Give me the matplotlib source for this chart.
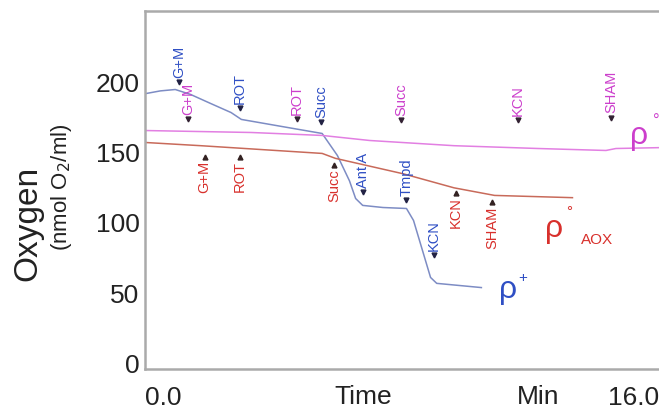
import matplotlib
matplotlib.use('Agg')
import matplotlib.pyplot as plt

plt.rcParams['font.family'] = ['Liberation Sans', 'DejaVu Sans']

# traces (time in min, oxygen in nmol O2/ml)
rho_plus_t = [-0.62, -0.1, 0.41, 0.93, 1.62, 2.31, 2.66, 4.03, 5.41, 5.93, 6.34, 6.55,
              6.79, 7.48, 8.28, 8.52, 9.10, 9.31, 10.83]
rho_plus_o2 = [192, 194, 195, 191.5, 185, 178.6, 173.7, 168.7, 163.7, 148, 130, 117.4,
               112.5, 111, 110.3, 101.8, 61.2, 57, 54]

rho0_t = [-0.62, 3.0, 5.41, 7.03, 9.9, 12.76, 15.07, 15.41, 17.1]
rho0_o2 = [165.8, 164.4, 162.3, 158.7, 155, 153, 151.6, 153, 153.7]

rho0_aox_t = [-0.62, 1.28, 5.41, 5.86, 8.17, 9.9, 11.28, 13.93]
rho0_aox_o2 = [157.3, 155, 149.5, 146, 135, 125, 119.6, 118]

# additions: label, time, arrow level
plus_labels = ['G+M', 'ROT', 'Succ', 'Ant A', 'Tmpd', 'KCN']
plus_times = [0.55, 2.62, 5.38, 6.79, 8.28, 9.21]
plus_levels = [200, 181.5, 172, 122, 116, 77]

rho0_labels = ['G+M', 'ROT', 'Succ', 'KCN', 'SHAM']
rho0_times = [0.86, 4.55, 8.10, 12.07, 15.24]
rho0_levels = [174, 174, 173, 173, 175]

aox_labels = ['G+M', 'ROT', 'Succ', 'KCN', 'SHAM']
aox_times = [1.41, 2.62, 5.83, 9.97, 11.2]
aox_levels = [147, 147, 141, 121, 114.6]

blue = '#2f4fc4'
magenta = '#cc3fcc'
red = '#d8302c'

fig = plt.figure(figsize=(6.59, 4.17), dpi=100)
ax = fig.add_axes([0.22, 0.115, 0.79, 0.859])

ax.plot(rho_plus_t, rho_plus_o2, color='#7d8cc4', lw=1.1)
ax.plot(rho0_t, rho0_o2, color='#e27fe2', lw=1.1)
ax.plot(rho0_aox_t, rho0_aox_o2, color='#c86a5a', lw=1.1)

for lab, t, y in zip(plus_labels, plus_times, plus_levels):
    ax.plot(t, y, marker='v', ms=3.5, color='#222244', ls='none')
    ax.annotate(lab, (t, y), xytext=(0, 3), textcoords='offset points', rotation=90,
                ha='center', va='bottom', color=blue, fontsize=10.5)
for lab, t, y in zip(rho0_labels, rho0_times, rho0_levels):
    ax.plot(t, y, marker='v', ms=3.5, color='#332233', ls='none')
    ax.annotate(lab, (t, y), xytext=(0, 3), textcoords='offset points', rotation=90,
                ha='center', va='bottom', color=magenta, fontsize=10.5)
for lab, t, y in zip(aox_labels, aox_times, aox_levels):
    ax.plot(t, y, marker='^', ms=3.5, color='#332222', ls='none')
    ax.annotate(lab, (t, y), xytext=(0, -3), textcoords='offset points', rotation=90,
                ha='center', va='top', color=red, fontsize=10.5)

# trace names
ax.text(16.2, 162, 'ρ', color=magenta, fontsize=23, ha='center', va='center')
ax.text(16.8, 172, '°', color=magenta, fontsize=12, ha='center', va='center')
ax.text(13.3, 96, 'ρ', color=red, fontsize=23, ha='center', va='center')
ax.text(13.8, 108, '°', color=red, fontsize=11, ha='center', va='center')
ax.text(14.75, 88, 'AOX', color=red, fontsize=11, ha='center', va='center')
ax.text(11.75, 52, 'ρ', color=blue, fontsize=23, ha='center', va='center')
ax.text(12.25, 61, '+', color=blue, fontsize=11, ha='center', va='center')

ax.set_xlim(-0.62, 17.1)
ax.set_ylim(-4, 251)
ax.set_yticks([0, 50, 100, 150, 200])
ax.set_xticks([0, 16])
ax.set_xticklabels(['0.0', '16.0'])
ax.tick_params(length=0, labelsize=19, colors='#222222', pad=4)
ax.tick_params(axis='x', pad=12)
ax.text(6.8, -0.078, 'Time', transform=ax.get_xaxis_transform(), fontsize=19,
        ha='center', va='center', color='#222222')
ax.text(12.76, -0.078, 'Min', transform=ax.get_xaxis_transform(), fontsize=19,
        ha='center', va='center', color='#222222')

for s in ['left', 'bottom', 'top']:
    ax.spines[s].set_color('#aaaaaa')
    ax.spines[s].set_linewidth(1.8)
ax.spines['right'].set_visible(False)

fig.text(0.043, 0.465, 'Oxygen', rotation=90, fontsize=24, ha='center', va='center',
         color='#222222')
fig.text(0.094, 0.55, '(nmol O$_2$/ml)', rotation=90, fontsize=16, ha='center',
         va='center', color='#222222')

fig.savefig('out.png', dpi=100)
